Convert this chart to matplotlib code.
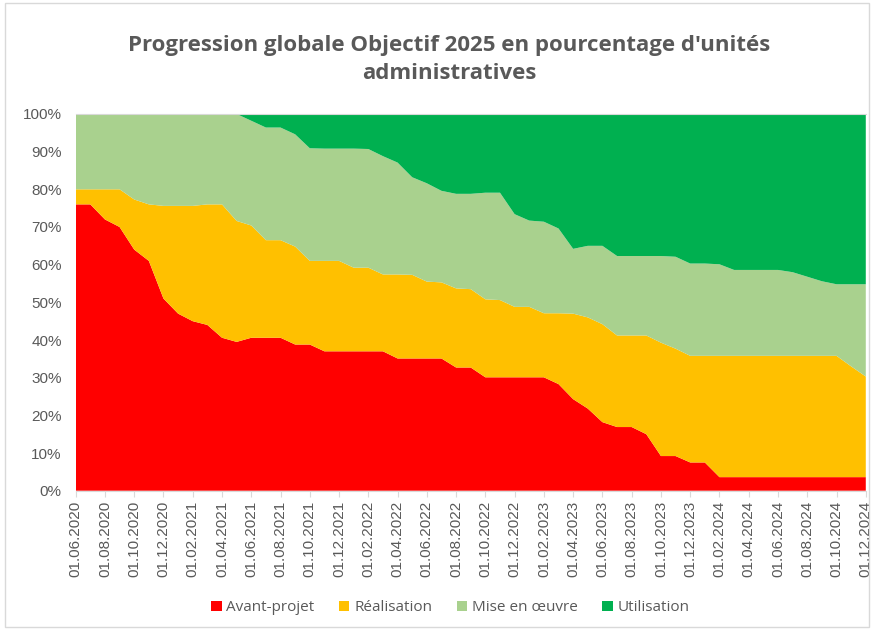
import pandas as pd
import matplotlib
matplotlib.use("Agg")
import matplotlib.pyplot as plt
from matplotlib.patches import Rectangle

# monthly dates, 01.06.2020 -> 01.12.2024
dates = pd.date_range("2020-06-01", "2024-12-01", freq="MS")
date_labels = [d.strftime("%d.%m.%Y") for d in dates]

# shares in %
avant_projet = [76.0, 76.0, 72.0, 70.0, 64.0, 61.0, 51.0, 47.0, 45.0, 44.0,
                40.6, 39.5, 40.6, 40.6, 40.6, 38.8, 38.8, 37.0, 37.0, 37.0,
                37.0, 37.0, 35.1, 35.1, 35.1, 35.1, 32.7, 32.7, 30.1, 30.1,
                30.1, 30.1, 30.1, 28.3, 24.3, 21.8, 18.2, 16.9, 16.9, 15.0,
                9.2, 9.2, 7.5, 7.5, 3.6, 3.6, 3.6, 3.6, 3.6, 3.6,
                3.6, 3.6, 3.6, 3.6, 3.6]
realisation = [4.0, 4.0, 8.0, 10.0, 13.3, 15.0, 24.6, 28.6, 30.6, 32.0,
               35.4, 32.1, 29.8, 25.9, 25.9, 26.0, 22.2, 24.0, 24.0, 22.2,
               22.2, 20.4, 22.3, 22.2, 20.4, 20.2, 21.0, 20.8, 20.7, 20.5,
               18.7, 18.7, 17.0, 18.8, 22.7, 24.2, 26.0, 24.3, 24.3, 26.2,
               30.1, 28.5, 28.3, 28.3, 32.2, 32.2, 32.2, 32.2, 32.2, 32.2,
               32.2, 32.2, 32.2, 29.4, 26.7]
mise_en_oeuvre = [20.0, 20.0, 20.0, 20.0, 22.7, 24.0, 24.4, 24.4, 24.4, 24.0,
                  24.0, 28.4, 27.8, 29.9, 29.9, 29.8, 29.9, 29.8, 29.8, 31.6,
                  31.5, 31.4, 29.7, 25.9, 26.1, 24.3, 25.1, 25.3, 28.3, 28.5,
                  24.6, 22.9, 24.3, 22.5, 17.2, 19.0, 20.8, 21.1, 21.1, 21.1,
                  23.0, 24.4, 24.5, 24.5, 24.3, 22.8, 22.8, 22.8, 22.8, 22.2,
                  21.0, 19.8, 19.0, 21.8, 24.5]
utilisation = [0.0, 0.0, 0.0, 0.0, 0.0, 0.0, 0.0, 0.0, 0.0, 0.0,
               0.0, 0.0, 1.8, 3.6, 3.6, 5.4, 9.1, 9.2, 9.2, 9.2,
               9.3, 11.2, 12.9, 16.8, 18.4, 20.4, 21.2, 21.2, 20.9, 20.9,
               26.6, 28.3, 28.6, 30.4, 35.8, 35.0, 35.0, 37.7, 37.7, 37.7,
               37.7, 37.9, 39.7, 39.7, 39.9, 41.4, 41.4, 41.4, 41.4, 42.0,
               43.2, 44.4, 45.2, 45.2, 45.2]

series_names = ["Avant-projet", "Réalisation", "Mise en œuvre", "Utilisation"]
colors = ["#FF0000", "#FFC000", "#A9D18E", "#00B050"]
grey = "#595959"

x = list(range(len(dates)))

fig = plt.figure(figsize=(8.74, 6.30), dpi=100)
ax = fig.add_axes([0.0866, 0.2211, 0.904, 0.598])

ax.stackplot(x, avant_projet, realisation, mise_en_oeuvre, utilisation,
             colors=colors, labels=series_names, linewidth=0)

ax.set_xlim(0, len(x) - 1)
ax.set_ylim(0, 100)
ax.set_yticks(range(0, 101, 10))
ax.set_yticklabels([f"{v}%" for v in range(0, 101, 10)])
ax.set_xticks(x[::2])
ax.set_xticklabels(date_labels[::2], rotation=90)

for s in ["left", "right"]:
    ax.spines[s].set_visible(False)
ax.spines["top"].set_color("#D9D9D9")
ax.spines["bottom"].set_color("#D9D9D9")
ax.tick_params(axis="y", length=0, colors=grey, labelsize=11, pad=10)
ax.tick_params(axis="x", length=4, color="#D9D9D9", colors=grey,
               labelsize=11, pad=3)
for lab in ax.get_xticklabels() + ax.get_yticklabels():
    lab.set_fontfamily("Liberation Sans")
    lab.set_color(grey)

fig.text(0.514, 0.905, "Progression globale Objectif 2025 en pourcentage d'unités\nadministratives",
         ha="center", va="center", fontsize=16, fontweight="bold",
         color=grey, family="Open Sans", linespacing=1.45)

leg = fig.legend(loc="center", bbox_to_anchor=(0.515, 0.035), ncol=4,
                 frameon=False, handlelength=0.7, handleheight=0.7,
                 handletextpad=0.3, columnspacing=1.6,
                 prop={"family": "Open Sans", "size": 11})
for t in leg.get_texts():
    t.set_color(grey)

fig.patches.append(Rectangle((0.006, 0.005), 0.988, 0.99, transform=fig.transFigure,
                             fill=False, edgecolor="#D9D9D9", linewidth=1))

plt.savefig("out.png", dpi=100)
